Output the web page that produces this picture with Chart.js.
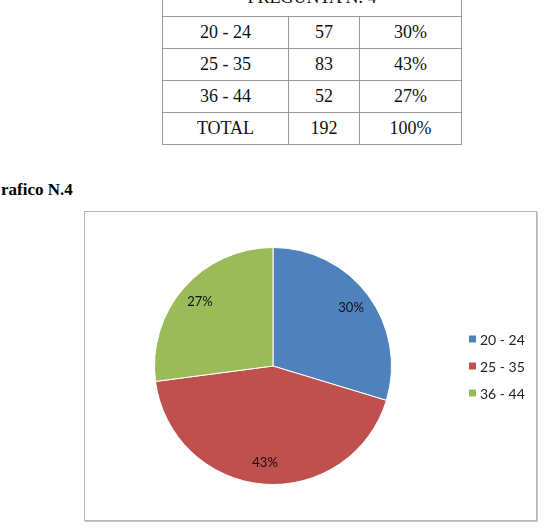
<!DOCTYPE html>
<html>
<head>
<meta charset="utf-8">
<script src="https://cdn.jsdelivr.net/npm/chart.js@4"></script>
<style>
  body { margin: 0; background: #fff; width: 548px; height: 528px; overflow: hidden; position: relative; }
  table { position: absolute; left: 162px; top: -16px; border-collapse: collapse; font-family: "Liberation Serif", serif; font-size: 18px; color: #111; }
  td { border: 1px solid #9a9a9a; text-align: center; height: 31px; padding: 0; }
  td.head { vertical-align: top; line-height: 25px; }
  .title { position: absolute; left: 1px; top: 180px; font-family: "Liberation Serif", serif; font-weight: bold; font-size: 17px; color: #000; }
  .box { position: absolute; left: 84px; top: 211px; width: 451px; height: 308px; border: 1px solid #b8b8b8; box-shadow: 1px 1px 0 #c8c8c8; }
  canvas { position: absolute; left: 0; top: 0; }
</style>
</head>
<body>
<table>
  <tr><td colspan="3" class="head">PREGUNTA N. 4</td></tr>
  <tr><td style="width:125px">20 - 24</td><td style="width:70px">57</td><td style="width:101px">30%</td></tr>
  <tr><td>25 - 35</td><td>83</td><td>43%</td></tr>
  <tr><td>36 - 44</td><td>52</td><td>27%</td></tr>
  <tr><td>TOTAL</td><td>192</td><td>100%</td></tr>
</table>
<div class="title">rafico N.4</div>
<div class="box"><canvas id="chartPie" width="451" height="308"></canvas></div>
<script>
const labels = ['20 - 24', '25 - 35', '36 - 44'];
const valores = [57, 83, 52];
const porcentajes = ['30%', '43%', '27%'];
const colores = ['#4F81BD', '#C0504D', '#9BBB59'];

// etiquetas de porcentaje dentro de cada sector
const pieLabels = {
  id: 'pieLabels',
  afterDatasetsDraw(chart) {
    const ctx = chart.ctx;
    const arcs = chart.getDatasetMeta(0).data;
    ctx.save();
    ctx.font = '13px Lato';
    ctx.fillStyle = '#111';
    ctx.textAlign = 'center';
    ctx.textBaseline = 'middle';
    arcs.forEach((arc, i) => {
      const p = arc.getProps(['x', 'y', 'startAngle', 'endAngle', 'outerRadius']);
      const mid = (p.startAngle + p.endAngle) / 2;
      const r = p.outerRadius * 0.82;
      ctx.fillText(porcentajes[i], p.x + Math.cos(mid) * r, p.y + Math.sin(mid) * r);
    });
    ctx.restore();
  },
};

// leyenda a la derecha
const legendaDerecha = {
  id: 'legendaDerecha',
  afterDraw(chart) {
    const ctx = chart.ctx;
    ctx.save();
    ctx.font = '14px Lato';
    ctx.textBaseline = 'middle';
    chart.data.labels.forEach((lab, i) => {
      const y = 127 + i * 27;
      ctx.fillStyle = colores[i];
      ctx.fillRect(384, y - 3.5, 7, 7);
      ctx.fillStyle = '#222';
      ctx.fillText(lab, 395, y + 1);
    });
    ctx.restore();
  },
};

const configPie = {
  type: 'pie',
  data: {
    labels: labels,
    datasets: [
      {
        data: valores,
        backgroundColor: colores,
        borderColor: '#ffffff',
        borderWidth: 1,
      },
    ],
  },
  options: {
    responsive: false,
    animation: false,
    layout: { padding: { left: 69, top: 35, bottom: 35, right: 144 } },
    plugins: { legend: { display: false }, tooltip: { enabled: false } },
  },
  plugins: [pieLabels, legendaDerecha],
};
const chartPie = new Chart(document.getElementById('chartPie'), configPie);
</script>
</body>
</html>
